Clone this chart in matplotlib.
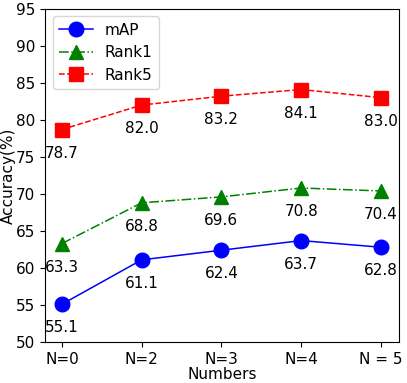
import matplotlib
matplotlib.use("Agg")
import matplotlib.pyplot as plt

categories = ["N=0", "N=2", "N=3", "N=4", "N = 5"]
mAP = [55.1, 61.1, 62.4, 63.7, 62.8]
rank1 = [63.3, 68.8, 69.6, 70.8, 70.4]
rank5 = [78.7, 82.0, 83.2, 84.1, 83.0]
yticks = [50, 55, 60, 65, 70, 75, 80, 85, 90, 95]

fig = plt.figure(figsize=(4.07, 3.83), dpi=100)
ax = fig.add_axes([0.111, 0.107, 0.870, 0.870])
x = list(range(len(categories)))

ax.plot(x, mAP, color="blue", marker="o", markersize=10.5, linestyle="-", linewidth=1.1, label="mAP")
ax.plot(x, rank1, color="green", marker="^", markersize=10.5, linestyle="-.", linewidth=1.1, label="Rank1")
ax.plot(x, rank5, color="red", marker="s", markersize=10.5, linestyle="--", linewidth=1.1, label="Rank5")

for series in (mAP, rank1, rank5):
    for xi, v in zip(x, series):
        ax.annotate(f"{v:.1f}", (xi, v), textcoords="offset points", xytext=(0, -17),
                    ha="center", va="center", fontsize=11)

ax.set_xticks(x)
ax.set_xticklabels(categories, fontsize=11)
ax.set_yticks(yticks)
ax.tick_params(axis="y", labelsize=11)
ax.set_ylim(50, 95)
ax.set_xlim(-0.21, 4.23)
ax.set_xlabel("Numbers", fontsize=11, labelpad=0)
ax.set_ylabel("Accuracy(%)", fontsize=11, labelpad=0)
ax.legend(loc="upper left", fontsize=11, handlelength=2.2)

fig.savefig("out.png", dpi=100)
